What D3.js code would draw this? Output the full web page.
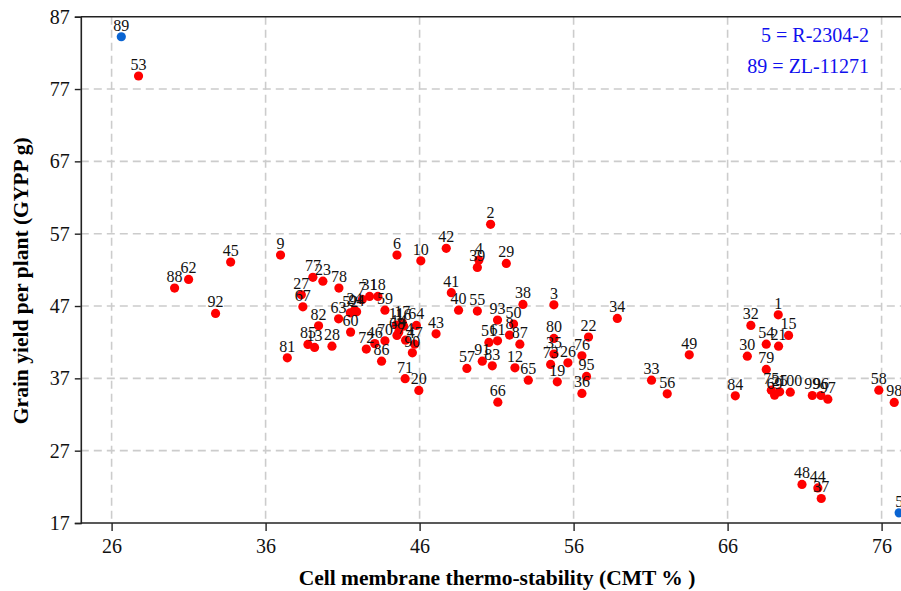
<!DOCTYPE html>
<html>
<head>
<meta charset="utf-8">
<script src="https://cdn.jsdelivr.net/npm/d3@7/dist/d3.min.js"></script>
<style>
  body { margin: 0; background: white; }
  svg { display: block; }
</style>
</head>
<body>
<div id="chart"></div>
<script>
// genotype number, CMT (%), GYPP (g)
const ids = [1, 2, 3, 4, 5, 6, 7, 8, 9, 10,
  11, 12, 13, 14, 15, 16, 17, 18, 19, 20,
  21, 22, 23, 24, 25, 26, 27, 28, 29, 30,
  31, 32, 33, 34, 35, 36, 37, 38, 39, 40,
  41, 42, 43, 44, 45, 46, 47, 48, 49, 50,
  51, 52, 53, 54, 55, 56, 57, 58, 59, 60,
  61, 62, 63, 64, 65, 66, 67, 68, 69, 70,
  71, 72, 73, 74, 75, 76, 77, 78, 79, 80,
  81, 82, 83, 84, 85, 86, 87, 88, 89, 90,
  91, 92, 93, 94, 95, 96, 97, 98, 99, 100];

const cmt = [69.29, 50.61, 54.72, 49.85, 77.14, 44.53, 42.28, 51.84, 36.97, 46.08,
  44.49, 52.19, 39.18, 44.65, 69.96, 44.96, 44.88, 43.29, 54.94, 45.95,
  69.31, 56.97, 39.72, 41.78, 69.38, 55.63, 38.32, 40.31, 51.63, 67.28,
  42.75, 67.51, 61.06, 58.84, 54.72, 56.54, 72.08, 52.71, 49.75, 48.53,
  48.06, 47.73, 47.07, 71.86, 33.73, 43.09, 45.68, 70.83, 63.51, 52.10,
  50.50, 41.50, 27.75, 68.51, 49.75, 62.08, 49.07, 75.82, 43.75, 41.52,
  51.06, 31.00, 40.74, 45.79, 53.06, 51.08, 38.42, 44.53, 69.05, 43.75,
  45.06, 42.54, 54.51, 45.09, 68.84, 56.54, 39.07, 40.76, 68.51, 54.72,
  37.41, 39.44, 50.72, 66.50, 38.75, 43.53, 52.51, 30.09, 26.63, 45.53,
  50.07, 32.75, 51.06, 41.91, 56.84, 72.06, 72.51, 76.82, 71.50, 70.07];

const gypp = [45.78, 58.29, 47.17, 53.35, 18.40, 54.04, 47.91, 42.98, 54.04, 53.25,
  44.36, 38.45, 41.27, 43.39, 42.93, 44.22, 44.68, 48.33, 36.52, 35.33,
  41.45, 42.70, 50.44, 46.43, 35.13, 39.14, 48.55, 41.45, 52.89, 40.07,
  48.33, 44.32, 36.75, 45.29, 40.35, 34.91, 20.39, 47.22, 52.34, 46.43,
  48.85, 54.97, 43.15, 21.85, 53.07, 41.80, 41.73, 22.33, 40.25, 44.50,
  41.97, 46.06, 78.80, 41.73, 46.30, 34.86, 38.37, 35.37, 46.43, 43.39,
  42.19, 50.68, 45.23, 44.32, 36.75, 33.71, 46.89, 42.93, 34.68, 42.19,
  36.96, 41.04, 38.92, 42.28, 35.37, 40.11, 50.96, 49.48, 38.23, 42.52,
  39.84, 44.26, 38.73, 34.58, 41.69, 39.38, 41.73, 49.48, 84.23, 40.53,
  39.38, 45.98, 45.05, 46.20, 37.26, 34.63, 34.12, 33.67, 34.63, 35.09];

const highlighted = [5, 89];
const legendLines = ["5 = R-2304-2", "89 = ZL-11271"];
const xTicks = [26, 36, 46, 56, 66, 76];
const yTicks = [17, 27, 37, 47, 57, 67, 77, 87];

const width = 901, height = 591;
const points = ids.map((id, i) => ({ id, x: cmt[i], y: gypp[i] }));

const x = d3.scaleLinear().domain([24, 78]).range([80.8, 80.8 + 54 * 15.4]);
const y = d3.scaleLinear().domain([17, 87]).range([523, 16.7]);

const svg = d3.select('#chart')
  .append('svg')
  .attr('width', width)
  .attr('height', height)
  .style('font-family', '"Liberation Serif", "Times New Roman", serif');

// grid
svg.append('g')
  .selectAll('line')
  .data(xTicks)
  .join('line')
  .attr('x1', d => x(d)).attr('x2', d => x(d))
  .attr('y1', y(87)).attr('y2', y(17))
  .attr('stroke', '#cccccc')
  .attr('stroke-width', 1.6)
  .attr('stroke-dasharray', '8,5');

svg.append('g')
  .selectAll('line')
  .data(yTicks.filter(d => d > 17 && d < 87))
  .join('line')
  .attr('x1', x(24)).attr('x2', width)
  .attr('y1', d => y(d)).attr('y2', d => y(d))
  .attr('stroke', '#cccccc')
  .attr('stroke-width', 1.6)
  .attr('stroke-dasharray', '8,5');

// top frame line
svg.append('line')
  .attr('x1', x(24)).attr('x2', width)
  .attr('y1', y(87)).attr('y2', y(87))
  .attr('stroke', '#222').attr('stroke-width', 1.6);

// axes
let xAxis = svg.append('g')
  .attr('transform', `translate(0,${y(17)})`)
  .call(d3.axisBottom(x).tickValues(xTicks).tickSize(8).tickPadding(8).tickFormat(d3.format('d')));
let yAxis = svg.append('g')
  .attr('transform', `translate(${x(24)},0)`)
  .call(d3.axisLeft(y).tickValues(yTicks).tickSize(6).tickPadding(5).tickFormat(d3.format('d')));

[xAxis, yAxis].forEach(a => {
  a.select('.domain').attr('stroke', '#222').attr('stroke-width', 1.6);
  a.selectAll('.tick line').attr('stroke', '#222').attr('stroke-width', 1.4);
  a.selectAll('.tick text')
    .attr('fill', '#111')
    .style('font-size', '20px')
    .style('font-family', '"Liberation Serif", serif');
});
xAxis.select('.domain').attr('d', `M${x(24)},0H${width}`);

// axis titles
svg.append('text')
  .attr('x', 497).attr('y', 585)
  .attr('text-anchor', 'middle')
  .style('font-size', '21.5px')
  .style('font-weight', 'bold')
  .text('Cell membrane thermo-stability (CMT % )');

svg.append('text')
  .attr('transform', `translate(28,${y(50.5)}) rotate(-90)`)
  .attr('text-anchor', 'middle')
  .style('font-size', '21.5px')
  .style('font-weight', 'bold')
  .text('Grain yield per plant (GYPP g)');

// points
svg.append('g')
  .selectAll('circle')
  .data(points)
  .join('circle')
  .attr('cx', d => x(d.x))
  .attr('cy', d => y(d.y))
  .attr('r', 4.6)
  .attr('fill', d => highlighted.includes(d.id) ? '#0a64d2' : '#ff0000');

// labels
svg.append('g')
  .selectAll('text')
  .data(points)
  .join('text')
  .attr('x', d => x(d.x))
  .attr('y', d => y(d.y) - 6)
  .attr('text-anchor', 'middle')
  .attr('fill', '#111')
  .style('font-size', '16px')
  .text(d => d.id);

// legend
svg.append('g')
  .selectAll('text')
  .data(legendLines)
  .join('text')
  .attr('x', 869)
  .attr('y', (d, i) => 42 + i * 31)
  .attr('text-anchor', 'end')
  .attr('fill', '#1010ee')
  .style('font-size', '20px')
  .text(d => d);
</script>
</body>
</html>
